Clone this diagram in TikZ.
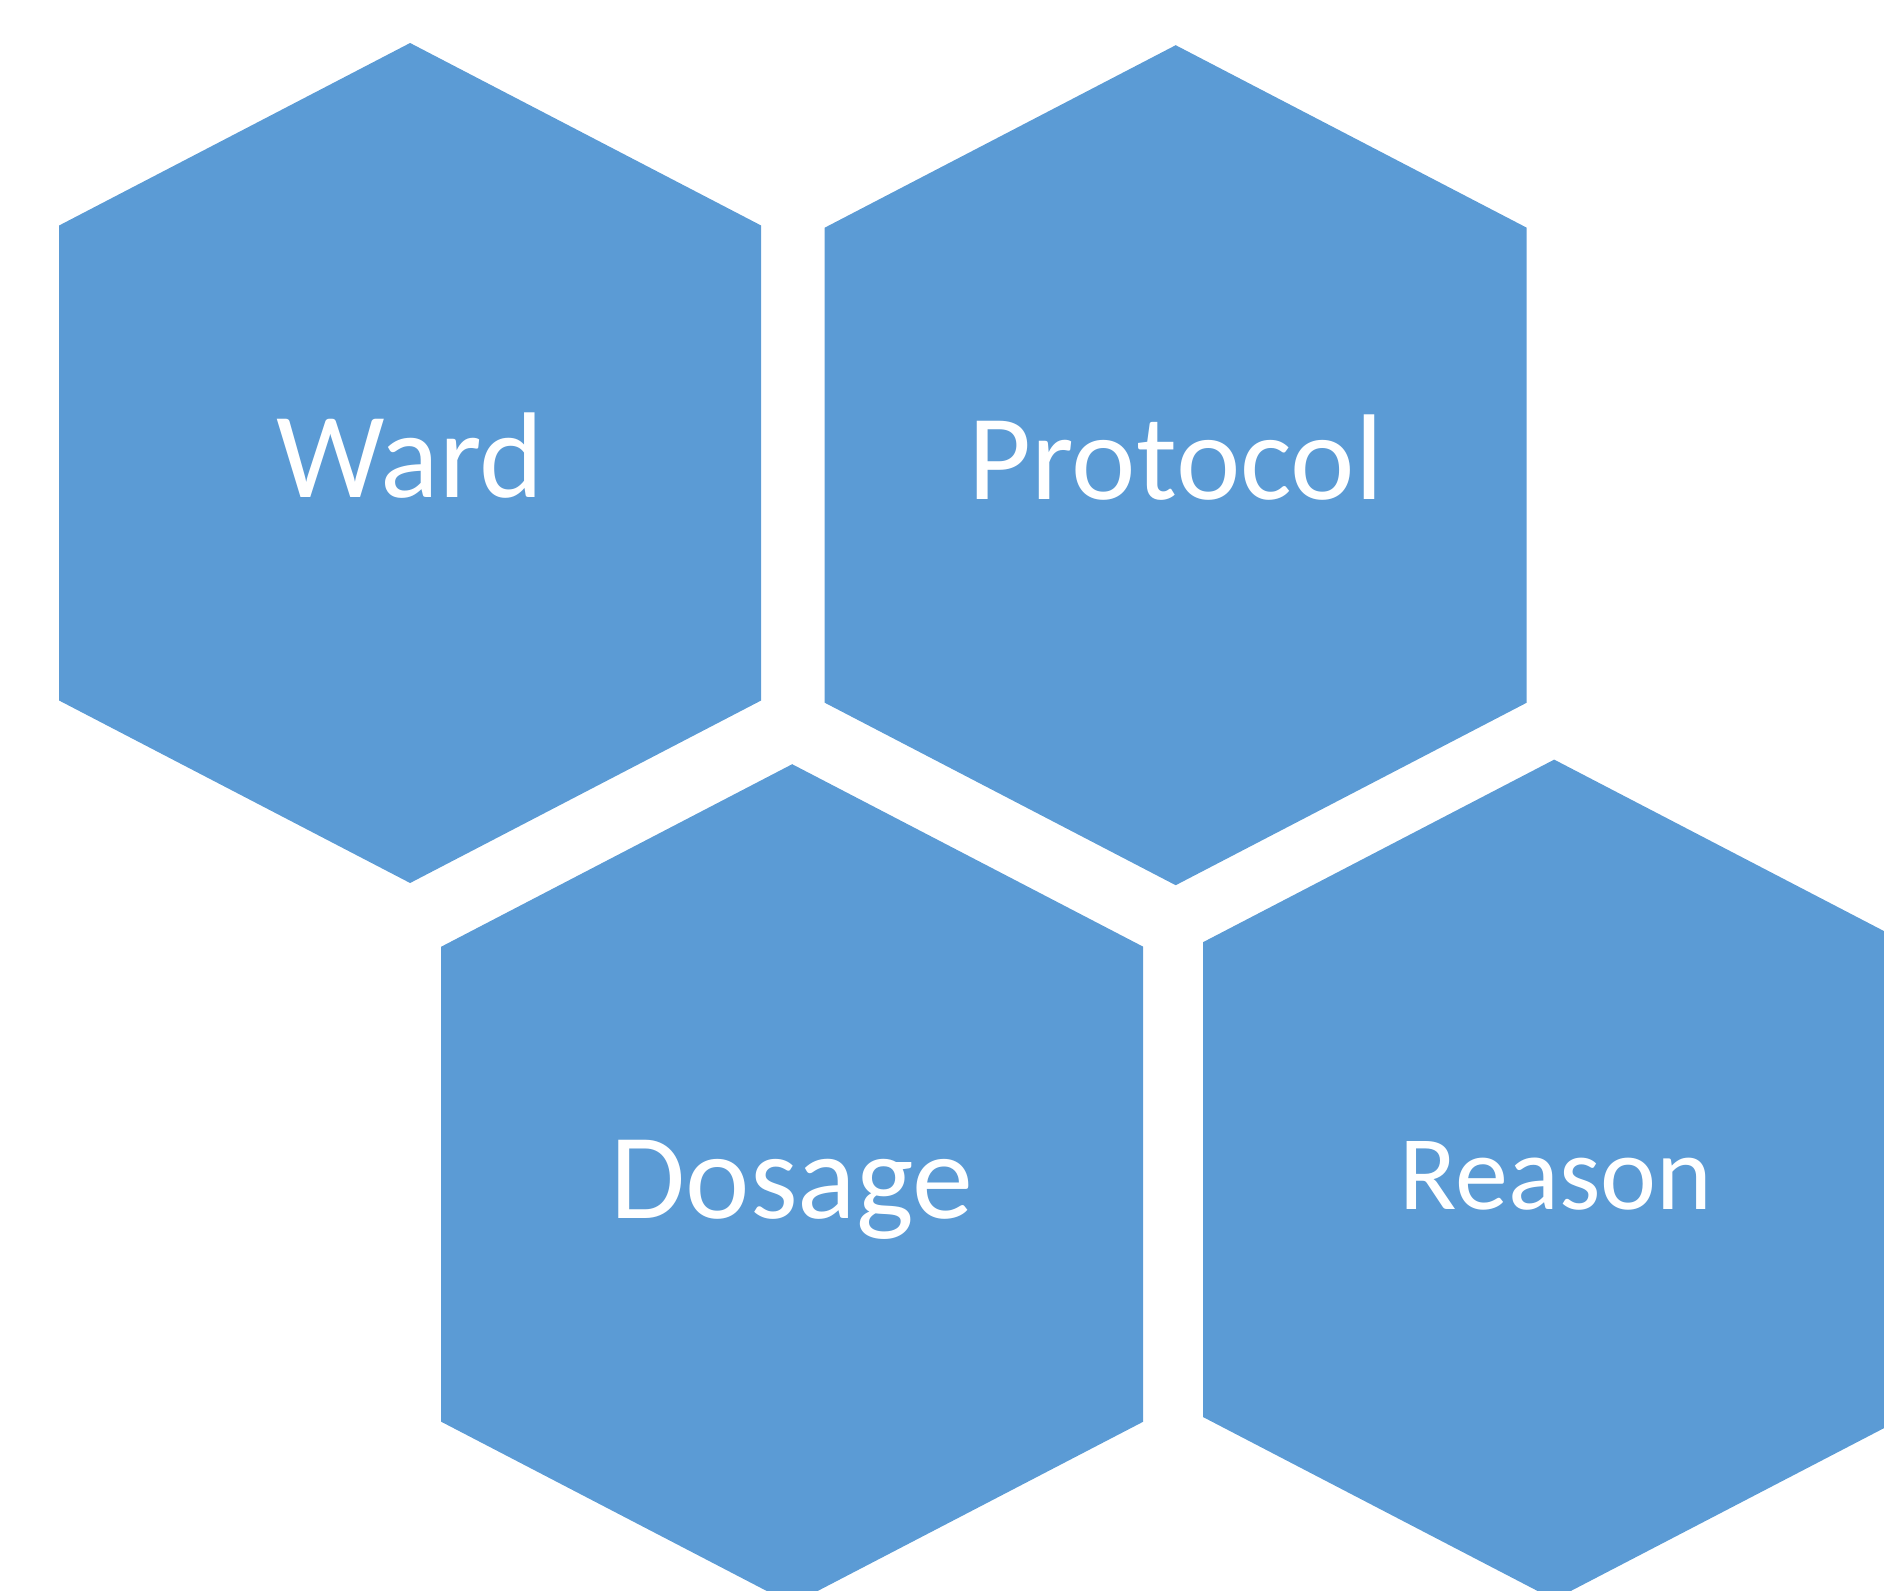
\documentclass[tikz,border=0pt]{standalone}
\usepackage{fontspec}
\setmainfont{Carlito}
\definecolor{hexblue}{HTML}{5B9BD5}
\tikzset{
  hexfill/.style={fill=hexblue},
  lbl/.style={text=white, inner sep=0pt, anchor=base, font=\fontsize{122}{140}\selectfont},
  lblsmall/.style={lbl, font=\fontsize{106}{124}\selectfont},
}
\newcommand\hexshape[2]{%
  \fill[hexfill, shift={(#1,#2)}] (0,-420) -- (351,-237.5) -- (351,237.5) -- (0,420) -- (-351,237.5) -- (-351,-237.5) -- cycle;}
\begin{document}
\begin{tikzpicture}[x=1pt,y=-1pt]
\useasboundingbox (0,0) rectangle (1884,1590);
\clip (0,0) rectangle (1884,1590);
\hexshape{410.1}{463}
\hexshape{1175.7}{465.2}
\hexshape{792.2}{1184.2}
\hexshape{1554.2}{1179.6}
\node[lbl] (ward) at (410.1,497) {Ward};
\node[lbl] (protocol) at (1175.7,499.5) {Protocol};
\node[lbl] (dosage) at (792.2,1218.4) {Dosage};
\node[lblsmall] (reason) at (1556,1209.3) {Reason};
\end{tikzpicture}
\end{document}
